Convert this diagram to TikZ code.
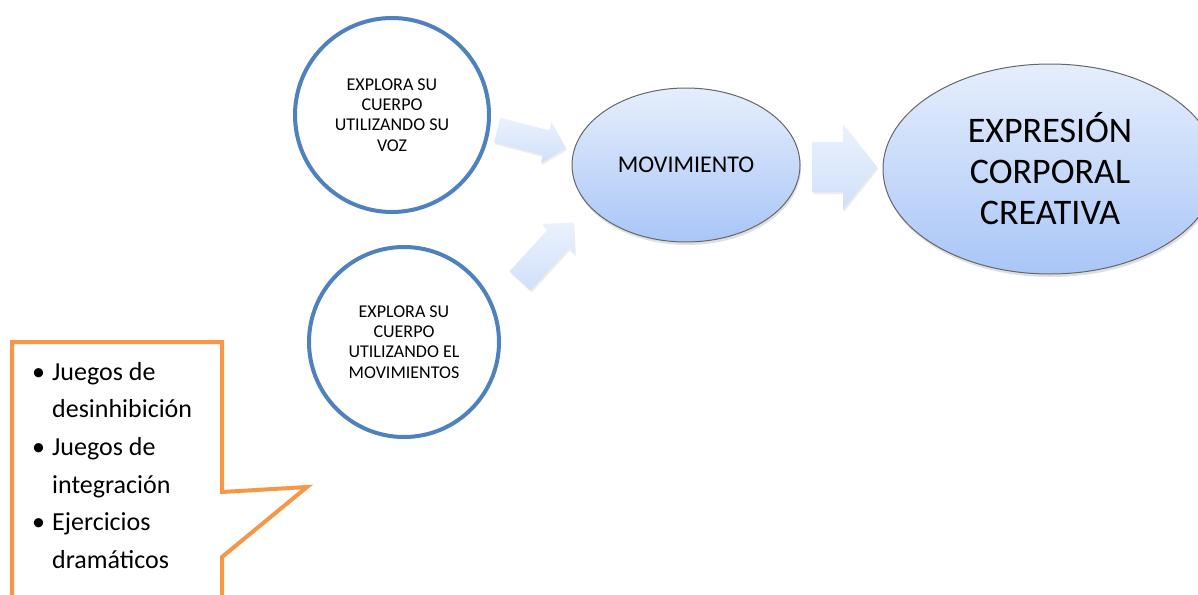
\documentclass[tikz,border=0pt]{standalone}
\usepackage{fontspec}
\setmainfont{Carlito}
\usetikzlibrary{shapes.geometric, shapes.arrows, shadows}
\definecolor{azul}{HTML}{4F81BD}
\definecolor{naranja}{HTML}{F79646}
\definecolor{celeste}{HTML}{A9C6F7}
\definecolor{palido}{HTML}{E6EEFC}
\tikzset{ci/.style = {circle, draw=azul, line width=4pt, fill=white, inner sep=0pt, align=center,
                        font=\fontsize{18}{20.3}\selectfont},
           ov/.style = {ellipse, draw=black!60, line width=1pt, top color=palido, bottom color=celeste,
                        inner sep=0pt, align=center, drop shadow={opacity=0.25, shadow xshift=1pt, shadow yshift=-3pt}},
           fl/.style = {single arrow, draw=none, inner xsep=0pt, anchor=tail, top color=palido!80!white, bottom color=celeste!55!white,
                        drop shadow={opacity=0.15, shadow xshift=1pt, shadow yshift=-2pt}}}

\begin{document}
\begin{tikzpicture}[x=1pt, y=-1pt]
    \useasboundingbox[fill=white] (0,0) rectangle (1198,594);
    \clip (0,0) rectangle (1198,594);
    \node[ci, minimum size=194pt] (a) at (392,115) {EXPLORA SU\\CUERPO\\UTILIZANDO SU\\VOZ};
    \node[ci, minimum size=190pt] (b) at (404,342) {EXPLORA SU\\CUERPO\\UTILIZANDO EL\\MOVIMIENTOS};
    \node[ov, minimum width=228pt, minimum height=154pt, font=\fontsize{24}{27}\selectfont] (m) at (686,165) {MOVIMIENTO};
    \node[ov, minimum width=334pt, minimum height=210pt, font=\fontsize{36}{41}\selectfont] (e) at (1050,169) {EXPRESIÓN\\CORPORAL\\CREATIVA};
    \node[fl, minimum height=71pt, inner ysep=12.5pt, single arrow head extend=8.5pt, single arrow tip angle=92, rotate=-14.6] (f1) at (497,130) {};
    \node[fl, minimum height=79pt, inner ysep=14pt, single arrow head extend=8pt, single arrow tip angle=90, rotate=47.6] (f2) at (520,281) {};
    \node[fl, minimum height=65pt, inner ysep=25pt, single arrow head extend=17.5pt, single arrow tip angle=103] (f3) at (812,167) {};
    % llamada
    \draw[naranja, line width=4pt, fill=white] (12,610) -- (12,342) -- (222,342) -- (222,492) -- (307,487) -- (222,557) -- (222,610);
    \node[anchor=north west, inner sep=0pt, align=left, font=\fontsize{26}{37.6}\selectfont] (l) at (32,362)
      {\makebox[20pt][l]{•}Juegos de\\\hspace*{20pt}desinhibición\\\makebox[20pt][l]{•}Juegos de\\\hspace*{20pt}integración\\\makebox[20pt][l]{•}Ejercicios\\\hspace*{20pt}dramáticos};
\end{tikzpicture}
\end{document}
